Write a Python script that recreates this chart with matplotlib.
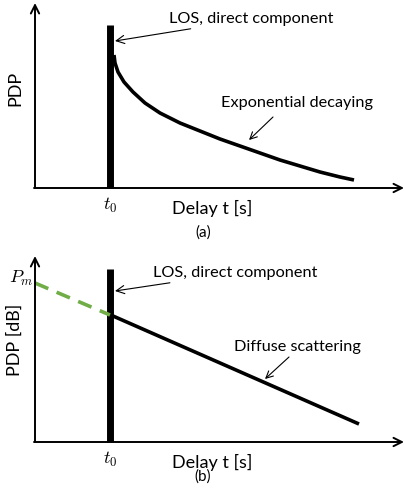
"""
Two-panel power delay profile sketch: (a) linear PDP with exponential decay,
(b) PDP in dB with a straight diffuse-scattering slope.
"""

import matplotlib

matplotlib.use("Agg")
import matplotlib.pyplot as plt

plt.rcParams["mathtext.fontset"] = "cm"
FONT = ["Lato", "DejaVu Sans"]

# panel (a): decaying tail (x, y in picture pixels)
decay_x = [114, 115, 118, 124, 133, 145, 160, 180, 200, 220, 240, 260, 280, 300, 320, 340, 354]
decay_y = [55, 63, 72, 82, 92, 103, 113, 123, 131, 139, 146, 153, 160, 166, 172, 177, 180]

# panel (b): dB slope, dashed extrapolation back to P_m
extrap_x = [35, 110]
extrap_y = [283, 315]
diffuse_x = [113, 359]
diffuse_y = [316, 424]

# LOS spike positions
los_x = 110
los_top = [25, 269]
axis_base = [188, 442]
axis_top = [3, 256]

panel_labels = ["(a)", "(b)"]
y_labels = ["PDP", "PDP [dB]"]
tail_labels = ["Exponential decaying", "Diffuse scattering"]

fig = plt.figure(figsize=(4.04, 4.99), dpi=100)
ax = fig.add_axes([0, 0, 1, 1])
ax.set_xlim(0, 404)
ax.set_ylim(499, 0)
ax.axis("off")

axis_arrow = dict(arrowstyle="->,head_length=0.6,head_width=0.3", lw=1.4, color="black",
                  shrinkA=0, shrinkB=0)
note_arrow = dict(arrowstyle="->,head_length=0.5,head_width=0.25", lw=0.8, color="black",
                  shrinkA=0, shrinkB=0)

for i in range(2):
    base = axis_base[i]
    # axes
    ax.annotate("", xy=(35, axis_top[i]), xytext=(35, base), arrowprops=axis_arrow)
    ax.annotate("", xy=(404, base), xytext=(34, base), arrowprops=axis_arrow)
    # LOS spike
    ax.plot([los_x, los_x], [los_top[i], base], color="black", lw=5, solid_capstyle="butt")
    # labels
    ax.text(15, 88 if i == 0 else 340, y_labels[i], rotation=90, ha="center", va="center",
            fontsize=13, family=FONT)
    ax.text(110, base + 17, r"$t_0$", ha="center", va="center", fontsize=13)
    ax.text(212, base + 20, "Delay t [s]", ha="center", va="center", fontsize=13, family=FONT)
    ax.text(203, base + 45 if i == 0 else base + 35, panel_labels[i], ha="center", va="center",
            fontsize=11, family=FONT)

# panel (a) curve and notes
ax.plot(decay_x, decay_y, color="black", lw=2.6, solid_capstyle="butt", solid_joinstyle="round")
ax.annotate("LOS, direct component", xy=(115, 41), xytext=(169, 19),
            ha="left", va="center", fontsize=11.7, family=FONT, arrowprops=note_arrow)
ax.annotate("", xy=(249, 140), xytext=(273, 117), arrowprops=note_arrow)
ax.text(297, 103, tail_labels[0], ha="center", va="center", fontsize=11.7, family=FONT)

# panel (b) lines and notes
ax.plot(extrap_x, extrap_y, color="#70ad47", lw=2.6, dashes=(4, 2.5))
ax.plot(diffuse_x, diffuse_y, color="black", lw=2.6, solid_capstyle="butt")
ax.text(21, 278, r"$P_m$", ha="center", va="center", fontsize=13)
ax.annotate("LOS, direct component", xy=(115, 291), xytext=(153, 273),
            ha="left", va="center", fontsize=11.7, family=FONT, arrowprops=note_arrow)
ax.annotate("", xy=(265, 379), xytext=(289, 357), arrowprops=note_arrow)
ax.text(297, 347, tail_labels[1], ha="center", va="center", fontsize=11.7, family=FONT)

fig.savefig("out.png", dpi=100)
